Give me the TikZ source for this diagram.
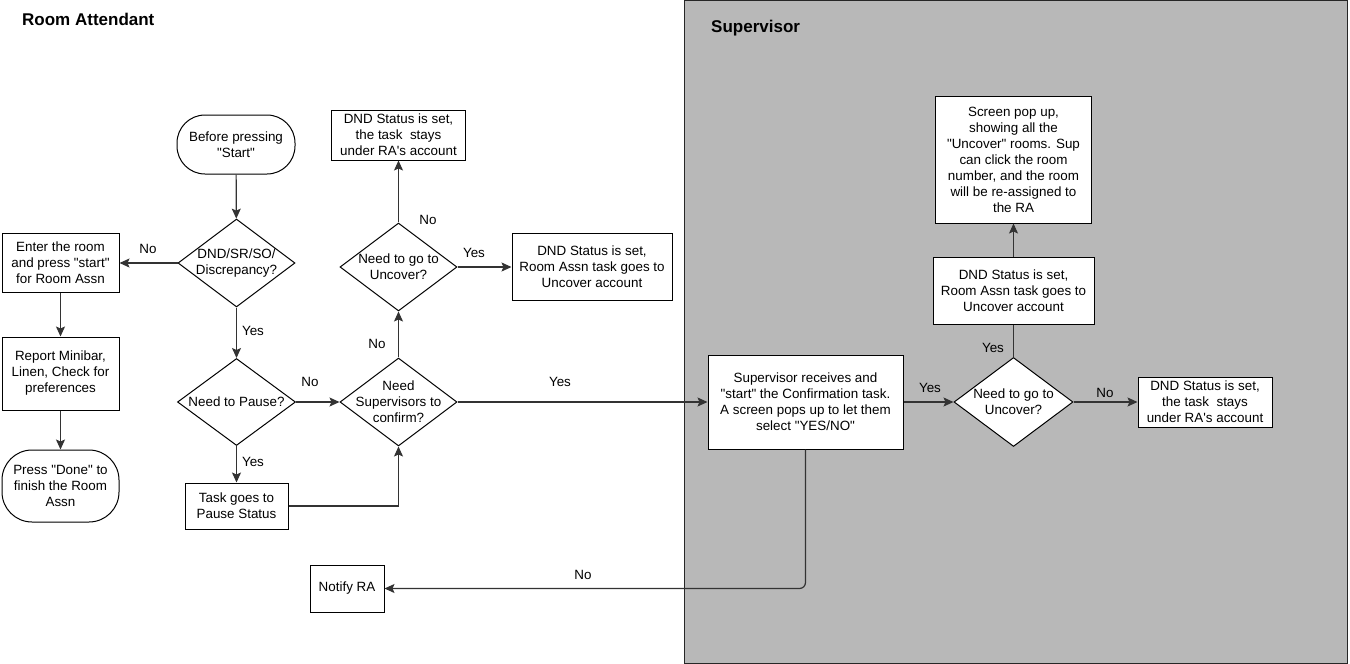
\documentclass[tikz,border=0pt]{standalone}
\usepackage{fontspec}
\setmainfont{Liberation Sans}[Ligatures=TeXOff]
\usetikzlibrary{shapes.geometric,arrows.meta}
\definecolor{panelgray}{HTML}{B8B8B8}
\definecolor{linec}{HTML}{333333}
\begin{document}
\begin{tikzpicture}[x=1pt,y=-1pt,
  every node/.style={font=\fontsize{13.4}{16}\selectfont},
  box/.style={draw=black, fill=white, line width=1pt, align=center, inner sep=0pt},
  term/.style={box, rounded corners=28pt},
  dia/.style={draw=black, fill=white, line width=1pt, diamond, inner sep=0pt},
  conn/.style={draw=linec, line width=1.2pt, -{Stealth[length=10pt,width=9pt,inset=2pt]}},
  plainline/.style={draw=linec, line width=1.2pt},
  lbl/.style={inner sep=0pt},
  title/.style={font=\fontsize{17}{20}\selectfont\bfseries, anchor=base west, inner sep=0pt}
]
\useasboundingbox (0,0) rectangle (1350,664);
% Supervisor lane
\draw[fill=panelgray, draw=black!85, line width=1pt] (684,0.5) rectangle (1347,663);
\node[title] (ttlA) at (22,25.6) {Room Attendant};
\node[title] (ttlB) at (711,32) {Supervisor};

% Room attendant nodes
\node[term, minimum width=118, minimum height=59] (start) at (236,144.5) {Before pressing\\"Start"};
\node[dia, minimum width=117, minimum height=88,
  label={[align=center]center:{DND/SR/SO/\\Discrepancy?}}] (d1) at (236.5,263) {};
\node[box, minimum width=117, minimum height=59] (enter) at (60.5,263) {Enter the room\\and press "start"\\for Room Assn};
\node[box, minimum width=117, minimum height=73] (report) at (60.5,373.5) {Report Minibar,\\Linen, Check for\\preferences};
\node[term, rounded corners=30pt, minimum width=117, minimum height=72] (done) at (60.5,486) {Press "Done" to\\finish the Room\\Assn};
\node[dia, minimum width=118, minimum height=87,
  label={[align=center]center:{Need to Pause?}}] (pause) at (236.5,402) {};
\node[box, minimum width=103, minimum height=46] (task) at (236.5,506) {Task goes to\\Pause Status};
\node[dia, minimum width=117, minimum height=88,
  label={[align=center]center:{Need\\Supervisors to\\confirm?}}] (conf) at (398.5,402) {};
\node[dia, minimum width=117, minimum height=88,
  label={[align=center]center:{Need to go to\\Uncover?}}] (unc1) at (398.5,267) {};
\node[box, minimum width=134, minimum height=50] (dndA) at (398.5,135) {DND Status is set,\\the task\ \ stays\\under RA's account};
\node[box, minimum width=160, minimum height=67] (dndB) at (592,267) {DND Status is set,\\Room Assn task goes to\\Uncover account};
\node[box, minimum width=74, minimum height=47] (notify) at (347,588.5) {Notify RA};

% Supervisor nodes
\node[box, minimum width=195, minimum height=94] (sup) at (805.5,402) {Supervisor receives and\\"start" the Confirmation task.\\A screen pops up to let them\\select "YES/NO"};
\node[dia, minimum width=119, minimum height=89,
  label={[align=center]center:{Need to go to\\Uncover?}}] (d3) at (1013.5,402) {};
\node[box, minimum width=161, minimum height=67] (dndC) at (1013.5,290.5) {DND Status is set,\\Room Assn task goes to\\Uncover account};
\node[box, minimum width=156, minimum height=127] (screen) at (1013.5,159.5) {Screen pop up,\\showing all the\\"Uncover" rooms. Sup\\can click the room\\number, and the room\\will be re-assigned to\\the RA};
\node[box, minimum width=134, minimum height=50] (dndD) at (1205,402) {DND Status is set,\\the task\ \ stays\\under RA's account};

% connectors
\draw[conn] (start) -- (d1);
\draw[conn] (d1.west) -- (enter.east);
\draw[conn] (enter) -- (report);
\draw[conn] (report) -- (done);
\draw[conn] (d1) -- (pause);
\draw[conn] (pause.east) -- (conf.west);
\draw[conn] (pause) -- (task);
\draw[conn] (task.east) -| (conf.south);
\draw[conn] (conf) -- (unc1);
\draw[conn] (unc1) -- (dndA);
\draw[conn] (unc1.east) -- (dndB.west);
\draw[conn] (conf.east) -- (sup.west);
\draw[conn] (sup.east) -- (d3.west);
\draw[plainline] (d3.north) -- (dndC.south);
\draw[conn] (dndC) -- (screen);
\draw[conn] (d3.east) -- (dndD.west);
\draw[conn, rounded corners=6pt] (sup.south) |- (notify.east);

% labels
\node[lbl] (l1) at (148,249) {No};
\node[lbl] (l2) at (253,331) {Yes};
\node[lbl] (l3) at (253,462) {Yes};
\node[lbl] (l4) at (310,382) {No};
\node[lbl] (l5) at (377,344) {No};
\node[lbl] (l6) at (428,219.5) {No};
\node[lbl] (l7) at (474,253) {Yes};
\node[lbl] (l8) at (560,382) {Yes};
\node[lbl] (l9) at (930,388) {Yes};
\node[lbl] (l10) at (993,348) {Yes};
\node[lbl] (l11) at (1105,393) {No};
\node[lbl] (l12) at (583,575) {No};
\end{tikzpicture}
\end{document}
